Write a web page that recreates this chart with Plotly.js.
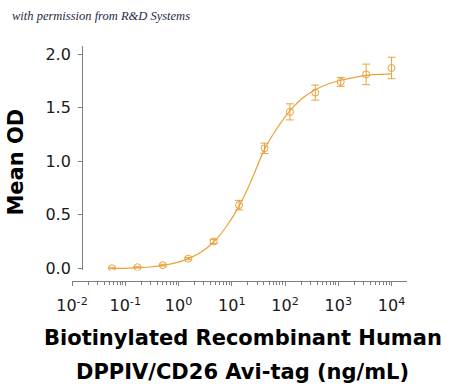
<!DOCTYPE html>
<html>
<head>
<meta charset="utf-8">
<script src="https://cdn.plot.ly/plotly-3.0.1.min.js"></script>
<style>html,body{margin:0;padding:0;background:#fff;}#chart{width:450px;height:386px;}</style>
</head>
<body>
<div id="chart"></div>
<script>
// Concentrations (ng/mL) and measured mean OD with error
const concentrations = [0.05645, 0.1694, 0.508, 1.524, 4.572, 13.72, 41.15, 123.5, 370.4, 1111, 3333, 10000];
const meanOD = [0.00, 0.01, 0.03, 0.09, 0.25, 0.59, 1.12, 1.46, 1.64, 1.74, 1.81, 1.87];
const errorOD = [0.005, 0.005, 0.008, 0.01, 0.02, 0.044, 0.048, 0.075, 0.07, 0.042, 0.096, 0.1];

// Fitted curve
const curveX = [0.05645, 0.0978, 0.1694, 0.2934, 0.508, 0.880, 1.524, 2.640, 4.572, 7.92, 13.72, 23.76, 41.15, 71.3, 123.5, 213.9, 370.4, 641.5, 1111, 1925, 3333, 5774, 10000];
const curveY = [0.00, 0.00, 0.005, 0.012, 0.028, 0.05, 0.09, 0.15, 0.245, 0.39, 0.58, 0.83, 1.11, 1.31, 1.47, 1.59, 1.667, 1.72, 1.755, 1.78, 1.80, 1.81, 1.815];

const xTickVals = [0.01, 0.1, 1, 10, 100, 1000, 10000];
const xTickText = ['10<sup>-2</sup>', '10<sup>-1</sup>', '10<sup>0</sup>', '10<sup>1</sup>', '10<sup>2</sup>', '10<sup>3</sup>', '10<sup>4</sup>'];
const yTickVals = [0, 0.5, 1.0, 1.5, 2.0];
const yTickText = ['0.0', '0.5', '1.0', '1.5', '2.0'];

const orange = '#E9A23B';
const axisGray = '#7f7f7f';

const traces = [
  {
    x: curveX, y: curveY, type: 'scatter', mode: 'lines',
    line: {color: orange, width: 1.2, shape: 'spline', smoothing: 1},
    hoverinfo: 'skip', showlegend: false
  },
  {
    x: concentrations, y: meanOD, type: 'scatter', mode: 'markers',
    marker: {symbol: 'circle-open', size: 7, color: orange, line: {color: orange, width: 1}},
    error_y: {type: 'data', array: errorOD, visible: true, color: orange, thickness: 1, width: 4},
    showlegend: false
  }
];

const layout = {
  width: 450, height: 386,
  margin: {l: 72, r: 43, t: 46, b: 105},
  paper_bgcolor: '#ffffff', plot_bgcolor: '#ffffff',
  font: {family: 'DejaVu Sans, Arial, sans-serif', color: '#1a1a1a'},
  xaxis: {
    type: 'log', range: [-2, 4.29], anchor: 'free', position: 0,
    showgrid: false, zeroline: false,
    showline: true, linecolor: axisGray, linewidth: 1.2,
    ticks: 'outside', ticklen: 4, tickcolor: axisGray, tickwidth: 1,
    tickvals: xTickVals, ticktext: xTickText, ticklabelstandoff: 6,
    tickfont: {family: 'DejaVu Sans, Arial, sans-serif', size: 16, color: '#1a1a1a'},
    minor: {ticks: 'outside', ticklen: 3, tickcolor: axisGray, dtick: 'D1', showgrid: false}
  },
  yaxis: {
    range: [-0.0205, 2.075], domain: [0.0447, 1], anchor: 'free', position: 0.03,
    showgrid: false, zeroline: false,
    showline: true, linecolor: axisGray, linewidth: 1.2,
    ticks: 'outside', ticklen: 4, tickcolor: axisGray, tickwidth: 1,
    tickvals: yTickVals, ticktext: yTickText, ticklabelstandoff: 4,
    tickfont: {family: 'DejaVu Sans, Arial, sans-serif', size: 16, color: '#1a1a1a'}
  },
  annotations: [
    {text: '<i>with permission from R&amp;D Systems</i>', xref: 'paper', yref: 'paper', x: -0.185, y: 1.128,
     xanchor: 'left', yanchor: 'middle', showarrow: false,
     font: {family: 'Liberation Serif, DejaVu Serif, serif', size: 12.5, color: '#1f2a44'}},
    {text: '<b>Mean OD</b>', xref: 'paper', yref: 'paper', x: -0.167, y: 0.504,
     xanchor: 'center', yanchor: 'middle', textangle: -90, showarrow: false,
     font: {family: 'DejaVu Sans, Arial, sans-serif', size: 21, color: '#000'}},
    {text: '<b>Biotinylated Recombinant Human</b>', xref: 'paper', yref: 'paper', x: 0.51, y: -0.243,
     xanchor: 'center', yanchor: 'middle', showarrow: false,
     font: {family: 'DejaVu Sans, Arial, sans-serif', size: 21, color: '#000'}},
    {text: '<b>DPPIV/CD26 Avi-tag (ng/mL)</b>', xref: 'paper', yref: 'paper', x: 0.51, y: -0.387,
     xanchor: 'center', yanchor: 'middle', showarrow: false,
     font: {family: 'DejaVu Sans, Arial, sans-serif', size: 21, color: '#000'}}
  ]
};

Plotly.newPlot('chart', traces, layout, {displayModeBar: false, staticPlot: true});
</script>
</body>
</html>
